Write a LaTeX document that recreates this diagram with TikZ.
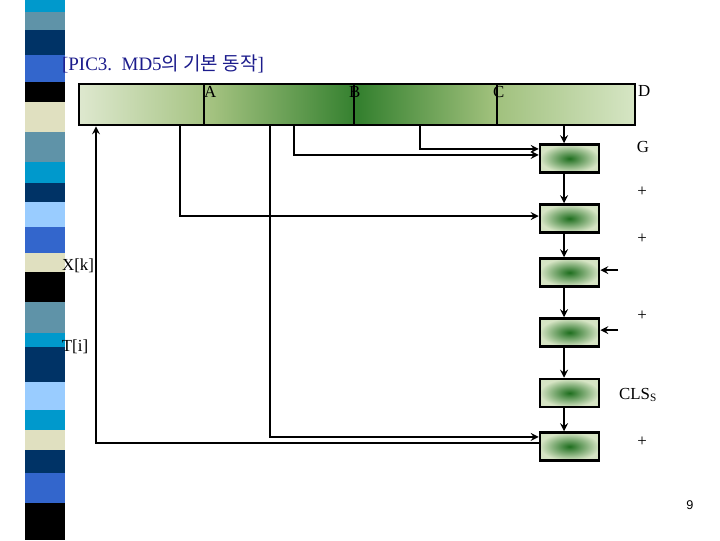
\documentclass[tikz,border=0pt]{standalone}
\usepackage{fontspec}
\setmainfont{Liberation Serif}
\newfontfamily\kr{Noto Sans CJK KR}
\newfontfamily\pgnum{Liberation Sans}
\usepackage{tikz}
\usetikzlibrary{arrows.meta, positioning, calc}
\usepackage{xcolor}

\definecolor{cyanb}{RGB}{0,153,204}
\definecolor{steel}{RGB}{95,147,168}
\definecolor{navy}{RGB}{0,51,102}
\definecolor{royal}{RGB}{51,102,204}
\definecolor{beige}{RGB}{224,224,192}
\definecolor{skyb}{RGB}{153,204,255}
\definecolor{titleblue}{RGB}{28,28,140}
\definecolor{opdark}{RGB}{30,110,30}
\definecolor{oplight}{RGB}{214,228,196}

\pgfdeclarehorizontalshading{barshade}{100bp}{rgb(0bp)=(0.87,0.91,0.81); rgb(25bp)=(0.87,0.91,0.81); rgb(37bp)=(0.64,0.76,0.50); rgb(50bp)=(0.20,0.50,0.18); rgb(62bp)=(0.62,0.75,0.48); rgb(75bp)=(0.84,0.90,0.77); rgb(100bp)=(0.84,0.90,0.77)}

\begin{document}
\begin{tikzpicture}[
        x=0.025cm, y=-0.025cm,
        >=stealth,
        line width=1.5pt,
        bar/.style={rectangle, draw=black, line width=1.8pt, shading=barshade, minimum width=13.9cm, minimum height=1.025cm, inner sep=0pt},
        op/.style={rectangle, draw=black, line width=1.8pt, inner color=opdark, outer color=oplight, minimum width=1.475cm, minimum height=0.7cm, inner sep=0pt},
        lbl/.style={font=\fontsize{12}{14}\selectfont, inner sep=0pt}
    ]
        \useasboundingbox (0,0) rectangle (720,540);

        % Streifen links
        \foreach \ya/\yb/\col in {0/12/cyanb, 12/30/steel, 30/55/navy, 55/82/royal, 82/102/black, 102/132/beige,
            132/162/steel, 162/183/cyanb, 183/202/navy, 202/227/skyb, 227/253/royal, 253/272/beige,
            272/302/black, 302/333/steel, 333/347/cyanb, 347/382/navy, 382/410/skyb, 410/430/cyanb,
            430/450/beige, 450/473/navy, 473/503/royal, 503/540/black}
            \fill[\col] (25,\ya) rectangle (65,\yb);

        % Titel
        \node[anchor=west, text=titleblue, font=\fontsize{13.5}{15}\selectfont, inner sep=0pt] (title) at (61,64)
            {[PIC3.~~MD5{\kr 의 기본 동작}]};

        % Register A B C D
        \node[bar] (bar) at (357,104.5) {};
        \foreach \x in {204,354,497}
            \draw (\x,84) -- (\x,125);
        \node[lbl, anchor=north west] (la) at (203,85) {A};
        \node[lbl, anchor=north west] (lb) at (348,85) {B};
        \node[lbl, anchor=north west] (lc) at (492,85) {C};
        \node[lbl, anchor=north west] (ld) at (637,84) {D};

        % Operationen
        \node[op] (op1) at (569.5,158.5) {};
        \node[op] (op2) at (569.5,218.5) {};
        \node[op] (op3) at (569.5,272.5) {};
        \node[op] (op4) at (569.5,332.5) {};
        \node[op] (op5) at (569.5,393) {};
        \node[op] (op6) at (569.5,446.5) {};

        \node[lbl] (g) at (643,147) {G};
        \node[lbl] (p1) at (642,192) {+};
        \node[lbl] (p2) at (642,239) {+};
        \node[lbl] (p3) at (642,316) {+};
        \node[lbl] (cls) at (638,395) {CLS\textsubscript{S}};
        \node[lbl] (p4) at (642,442) {+};

        \node[lbl] (xk) at (78,266) {X[k]};
        \node[lbl] (ti) at (75,347) {T[i]};

        % Abgriffe
        \coordinate (col) at (564,0);
        \coordinate (t0) at (96,0);
        \coordinate (t1) at (180,0);
        \coordinate (t2) at (270,0);
        \coordinate (t3) at (294,0);
        \coordinate (t4) at (420,0);
        \coordinate (xin) at (618,0);

        % Kette
        \draw[->] (bar.south -| col) -- (op1.north -| col);
        \draw[->] (op1.south -| col) -- (op2.north -| col);
        \draw[->] (op2.south -| col) -- (op3.north -| col);
        \draw[->] (op3.south -| col) -- (op4.north -| col);
        \draw[->] (op4.south -| col) -- (op5.north -| col);
        \draw[->] (op5.south -| col) -- (op6.north -| col);

        \draw[->] (bar.south -| t4) |- ([yshift=0.24cm]op1.west);
        \draw[->] (bar.south -| t3) |- ([yshift=0.09cm]op1.west);
        \draw[->] (bar.south -| t1) |- ([yshift=0.06cm]op2.west);
        \draw[->] (bar.south -| t2) |- ([yshift=0.24cm]op6.west);
        \draw[->] ([yshift=0.09cm]op6.west) -| (bar.south -| t0);

        \draw[->] ([yshift=0.06cm]op3.east -| xin) -- ([yshift=0.06cm]op3.east);
        \draw[->] ([yshift=0.06cm]op4.east -| xin) -- ([yshift=0.06cm]op4.east);

        \node[font=\pgnum\fontsize{9}{10}\selectfont] (page) at (690,505) {9};

    \end{tikzpicture}
\end{document}
